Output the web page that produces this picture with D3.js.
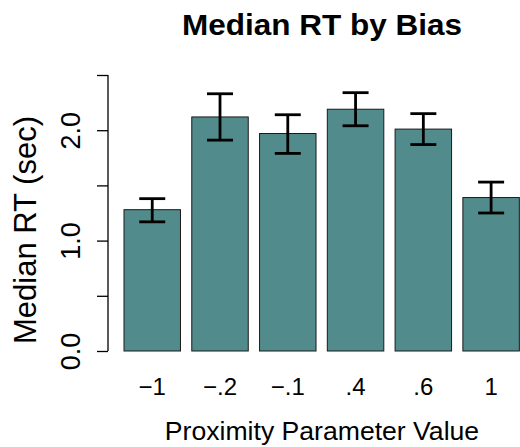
<!DOCTYPE html>
<html>
<head>
<meta charset="utf-8">
<script src="https://cdn.jsdelivr.net/npm/d3@7"></script>
<style>
  html, body { margin: 0; padding: 0; background: #fff; }
  svg { display: block; font-family: "Liberation Sans", Arial, Helvetica, sans-serif; }
</style>
</head>
<body>
<svg id="chart" width="520" height="447"></svg>
<script>
// Proximity parameter levels and median response times with interval bounds
const categories = ["\u22121", "\u2212.2", "\u2212.1", ".4", ".6", "1"];
const medianRT   = [1.28, 2.12, 1.97, 2.19, 2.01, 1.39];
const lowerRT    = [1.17, 1.91, 1.79, 2.04, 1.87, 1.25];
const upperRT    = [1.38, 2.33, 2.14, 2.34, 2.15, 1.53];
const yTicks      = [0, 0.5, 1, 1.5, 2, 2.5];
const yTickLabels = ["0.0", "", "1.0", "", "2.0", ""];

const svg = d3.select("#chart");

const y = d3.scaleLinear().domain([0, 2.5]).range([351, 75]);
const x = d3.scaleBand()
  .domain(categories)
  .range([118.35, 525])
  .paddingInner(1 / 6)
  .paddingOuter(1 / 12);

const barFill = "#528b8b";

// bars
svg.append("g").selectAll("rect")
  .data(categories)
  .join("rect")
  .attr("x", d => x(d))
  .attr("width", x.bandwidth())
  .attr("y", (d, i) => y(medianRT[i]))
  .attr("height", (d, i) => y(0) - y(medianRT[i]))
  .attr("fill", barFill)
  .attr("stroke", "#1a1a1a")
  .attr("stroke-width", 1);

// error bars
const capHalf = 13;
const eb = svg.append("g")
  .attr("stroke", "#000")
  .attr("stroke-width", 2.8)
  .attr("fill", "none");
categories.forEach((c, i) => {
  const cx = x(c) + x.bandwidth() / 2;
  eb.append("line").attr("x1", cx).attr("x2", cx)
    .attr("y1", y(lowerRT[i])).attr("y2", y(upperRT[i]));
  eb.append("line").attr("x1", cx - capHalf).attr("x2", cx + capHalf)
    .attr("y1", y(upperRT[i])).attr("y2", y(upperRT[i]));
  eb.append("line").attr("x1", cx - capHalf).attr("x2", cx + capHalf)
    .attr("y1", y(lowerRT[i])).attr("y2", y(lowerRT[i]));
});

// y axis
const yAxis = d3.axisLeft(y)
  .tickValues(yTicks)
  .tickSize(11)
  .tickFormat((d, i) => yTickLabels[i]);
const gy = svg.append("g")
  .attr("transform", "translate(108,0)")
  .call(yAxis);
gy.select(".domain").attr("stroke", "#000").attr("stroke-width", 1.3)
  .attr("d", `M0,${y(0)}V${y(2.5)}`);
gy.selectAll(".tick line").attr("stroke", "#000").attr("stroke-width", 1.3);
gy.selectAll(".tick text")
  .attr("font-size", 27)
  .attr("fill", "#000")
  .attr("x", 0)
  .attr("dy", 0)
  .attr("text-anchor", "middle")
  .attr("transform", "translate(-28,0) rotate(-90)");

// x category labels
const xAxis = d3.axisBottom(x).tickSize(0).tickPadding(0);
const gx = svg.append("g")
  .attr("transform", "translate(0,394.5)")
  .call(xAxis);
gx.select(".domain").remove();
gx.selectAll(".tick text")
  .attr("font-size", 24)
  .attr("fill", "#000")
  .attr("dy", 0)
  .attr("y", 0);

// titles
svg.append("text")
  .attr("x", 322).attr("y", 34.5)
  .attr("text-anchor", "middle")
  .attr("font-size", 29)
  .attr("font-weight", "bold")
  .attr("textLength", 280)
  .attr("lengthAdjust", "spacingAndGlyphs")
  .text("Median RT by Bias");

svg.append("text")
  .attr("x", 322).attr("y", 440)
  .attr("text-anchor", "middle")
  .attr("font-size", 26.6)
  .text("Proximity Parameter Value");

svg.append("text")
  .attr("transform", "translate(36,230) rotate(-90)")
  .attr("text-anchor", "middle")
  .attr("font-size", 31)
  .text("Median RT (sec)");
</script>
</body>
</html>
